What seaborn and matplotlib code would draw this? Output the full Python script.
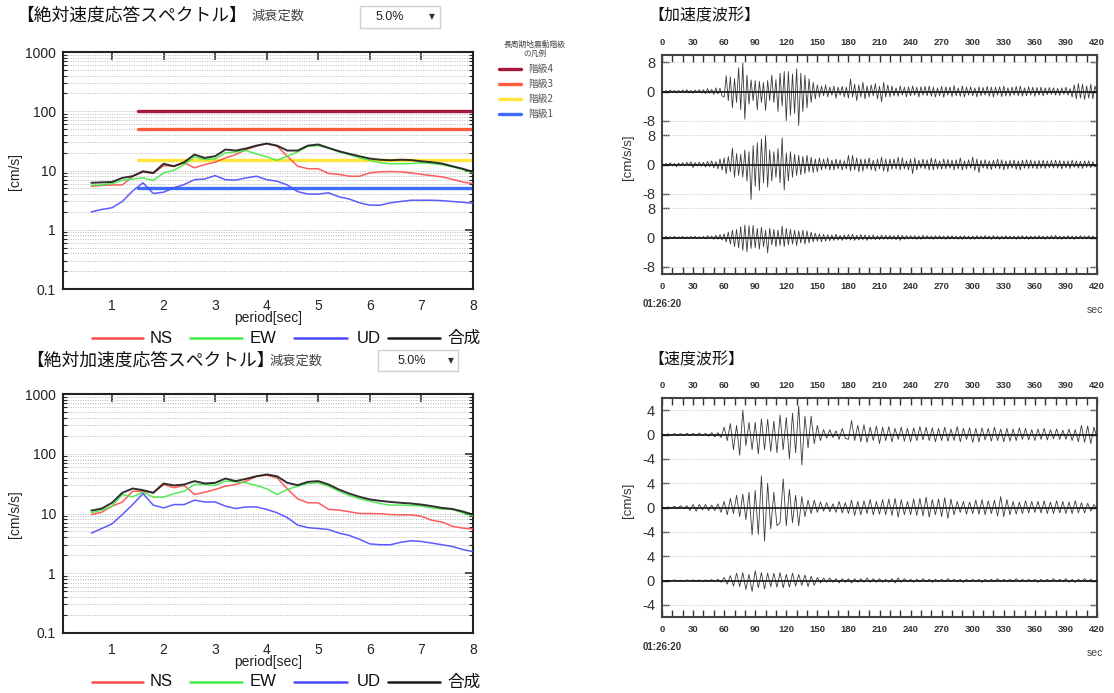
import numpy as np
import matplotlib
matplotlib.use("Agg")
import matplotlib.pyplot as plt
import seaborn as sns
from matplotlib.lines import Line2D
from matplotlib.patches import Rectangle
from matplotlib.ticker import FixedLocator, NullFormatter, LogLocator

sns.set_style("white")
plt.rcParams['font.family'] = ['Liberation Sans', 'Noto Sans CJK JP', 'DejaVu Sans']

# ---------------- data ----------------
periods = [0.6, 0.8, 1.0, 1.2, 1.4, 1.6, 1.8, 2.0, 2.2, 2.4,
           2.6, 2.8, 3.0, 3.2, 3.4, 3.6, 3.8, 4.0, 4.2, 4.4,
           4.6, 4.8, 5.0, 5.2, 5.4, 5.6, 5.8, 6.0, 6.2, 6.4,
           6.6, 6.8, 7.0, 7.2, 7.4, 7.6, 7.8, 8.0]

# absolute velocity response spectrum [cm/s]
vs_ns = [5.4, 5.6, 5.7, 5.7, 8.0, 9.5, 8.9, 12.1, 11.8, 13.5,
         11.1, 12.6, 13.8, 16.3, 18.6, 22.6, 25.7, 28.5, 25.7, 17.4,
         11.8, 10.7, 10.7, 8.9, 8.6, 8.0, 8.0, 9.1, 9.5, 9.6,
         9.5, 9.1, 8.6, 8.2, 7.8, 7.1, 6.4, 6.0]
vs_ew = [5.6, 5.7, 6.0, 6.8, 7.2, 7.5, 6.8, 9.1, 10.1, 12.6,
         17.0, 15.3, 15.7, 19.8, 20.6, 21.7, 19.1, 17.0, 14.9, 17.4,
         20.6, 25.7, 26.3, 24.0, 20.6, 18.6, 16.3, 14.9, 13.5, 13.0,
         13.0, 13.1, 13.5, 13.1, 12.5, 11.5, 10.4, 9.1]
vs_ud = [2.0, 2.2, 2.35, 3.0, 4.5, 6.2, 4.1, 4.3, 5.1, 5.8,
         7.0, 7.2, 8.2, 7.0, 6.9, 7.5, 8.0, 7.0, 6.6, 5.7,
         4.4, 4.0, 4.0, 4.2, 3.6, 3.3, 2.85, 2.6, 2.6, 2.85,
         3.0, 3.15, 3.15, 3.15, 3.1, 3.0, 2.9, 2.8]
vs_sum = [6.2, 6.3, 6.4, 7.5, 8.0, 9.7, 9.1, 13.0, 11.8, 13.8,
          18.6, 16.3, 17.4, 22.6, 21.7, 23.5, 26.3, 28.5, 26.3, 21.7,
          21.7, 26.3, 27.5, 24.0, 21.2, 19.1, 17.4, 15.9, 15.2, 14.9,
          15.2, 15.0, 14.3, 13.8, 13.1, 11.8, 10.7, 9.5]

# absolute acceleration response spectrum [cm/s/s]
as_ns = [9.6, 10.5, 13.3, 15.5, 23.6, 23.6, 22.2, 30.6, 27.0, 29.5,
         20.8, 22.7, 25.2, 28.7, 30.6, 34.8, 42.0, 43.8, 39.5, 25.9,
         17.6, 15.1, 15.1, 11.7, 11.4, 10.7, 10.0, 10.0, 9.9, 9.6,
         9.5, 9.5, 9.0, 7.7, 7.2, 6.1, 5.7, 5.5]
as_ew = [10.3, 11.4, 13.3, 20.8, 19.0, 22.7, 18.8, 18.8, 21.4, 23.6,
         30.6, 30.6, 29.5, 34.8, 33.9, 32.6, 29.5, 25.9, 20.8, 25.2,
         28.7, 31.8, 32.6, 28.7, 23.6, 20.0, 17.6, 16.1, 14.7, 13.8,
         13.8, 13.6, 13.3, 12.4, 11.9, 11.7, 10.3, 9.0]
as_ud = [4.7, 5.6, 6.7, 9.6, 14.1, 21.6, 13.8, 12.4, 14.1, 14.1,
         16.7, 15.6, 15.6, 13.3, 12.1, 12.9, 12.9, 11.7, 10.3, 8.5,
         6.4, 5.8, 5.6, 5.4, 4.7, 4.3, 3.7, 3.1, 3.0, 3.0,
         3.3, 3.5, 3.4, 3.2, 3.0, 2.8, 2.5, 2.3]
as_sum = [11.2, 12.1, 15.1, 22.2, 26.2, 24.6, 22.2, 31.8, 29.5, 30.6,
          34.8, 31.8, 32.6, 38.5, 34.8, 38.0, 42.0, 45.0, 42.0, 32.6,
          29.8, 33.9, 34.8, 30.6, 25.2, 21.6, 19.0, 17.2, 16.3, 15.6,
          15.1, 14.7, 14.1, 13.3, 12.4, 11.9, 10.8, 9.6]

# long-period ground motion class thresholds (階級4..1)
level_values = [100, 50, 15, 5]
level_names = ['階級4', '階級3', '階級2', '階級1']
level_period = [1.5, 8.0]

series_names = ['NS', 'EW', 'UD', '合成']

# acceleration waveforms [cm/s/s], sampled every 2 s from 0 to 420 s
acc_ns = [0.2, -0.3, 0.3, -0.2, 0.4, -0.3, 0.3, -0.4, 0.3, -0.3,
          0.4, -0.3, 0.5, -0.4, 0.3, -0.5, 0.4, -0.3, 0.5, -0.4,
          0.5, -0.6, 0.8, -0.5, 0.6, -0.8, 1.0, -0.7, 0.9, -1.2,
          -1.5, 4.3, -2.5, 4.0, -4.5, 3.5, -3.0, 6.5, -5.0, 7.8,
          -7.6, 4.5, -3.5, 3.2, -2.5, 3.0, -5.0, 2.8, -3.0, 2.5,
          -5.2, 3.0, -2.5, 4.5, -3.0, 3.2, -5.5, 5.0, -4.0, 5.5,
          -8.0, 5.5, -6.5, 4.8, -6.0, 6.2, -9.3, 5.0, -5.5, 4.5,
          -4.5, 3.5, -3.0, 2.5, -2.0, 1.8, -1.5, 1.5, -1.2, 1.8,
          -1.5, 1.2, -1.0, 1.5, -1.8, 1.2, -1.0, 1.4, -1.5, 1.2,
          -1.8, 3.4, -1.5, 2.0, -2.5, 1.8, -1.5, 2.5, -2.0, 1.5,
          -1.5, 1.8, -1.2, 2.2, -2.0, 1.5, -2.8, 2.5, -1.5, 1.8,
          -1.5, 1.5, -1.2, 1.0, -1.3, 1.5, -1.0, 1.2, -1.5, 1.3,
          -1.2, 1.5, -1.0, 1.2, -1.5, 1.3, -1.0, 1.4, -1.2, 1.5,
          -1.3, 1.2, -1.5, 1.0, -1.2, 1.4, -1.6, 1.3, -1.0, 1.2,
          -1.4, 1.6, -1.2, 1.0, -1.3, 1.5, -1.5, 1.2, -1.0, 1.3,
          -1.2, 1.0, -1.5, 1.3, -1.2, 1.1, -1.0, 1.4, -1.3, 1.2,
          -1.5, 1.2, -1.0, 1.3, -1.4, 1.5, -1.2, 1.0, -1.3, 1.2,
          -1.0, 1.4, -1.2, 1.5, -1.3, 1.0, -1.2, 1.3, -1.0, 1.2,
          -1.3, 1.1, -1.0, 1.2, -1.2, 1.0, -0.9, 1.1, -0.8, 1.0,
          -1.0, 0.9, -1.1, 1.0, -0.8, 1.2, -1.0, 0.8, -1.5, 1.8,
          -2.0, 2.2, -1.8, 2.0, -2.2, 1.5, -1.8, 2.0, -2.0, 1.5,
          -0.5]
acc_ew = [0.2, -0.3, 0.3, -0.2, 0.5, -0.4, 0.3, -0.6, 0.4, -0.3,
          0.5, -0.4, 0.6, -0.3, 0.7, -0.8, 0.5, -0.4, 0.6, -0.5,
          0.6, -0.7, 0.8, -0.6, 1.0, -0.9, 0.8, -1.2, 1.5, -1.5,
          1.8, -2.5, 2.2, -2.0, 4.5, -3.5, 3.0, -3.0, 2.8, -3.5,
          4.0, -4.5, 3.5, -9.6, 5.2, -6.0, 6.0, -7.1, 7.0, -5.0,
          7.9, -6.2, 4.0, -4.5, 3.5, -3.5, 4.3, -5.0, 7.3, -7.0,
          3.2, -4.5, 3.5, -3.5, 2.8, -3.0, 2.5, -2.8, 2.2, -2.5,
          2.5, -2.0, 2.0, -2.2, 1.5, -2.0, 1.8, -1.5, 1.5, -1.2,
          1.8, -1.5, 1.2, -1.5, 1.5, -1.2, 1.3, -1.5, 1.0, -1.2,
          2.5, -1.8, 2.5, -1.5, 1.8, -2.0, 1.5, -1.8, 1.5, -1.2,
          1.8, -1.5, 1.2, -1.8, 1.5, -1.2, 2.0, -1.8, 1.5, -2.0,
          1.5, -1.3, 1.5, -1.2, 2.0, -1.5, 1.8, -1.2, 1.0, -1.5,
          1.5, -2.5, 1.8, -1.5, 1.2, -1.0, 1.5, -1.2, 1.3, -1.5,
          1.8, -1.5, 1.5, -1.2, 1.0, -1.3, 1.5, -1.2, 1.4, -1.0,
          1.2, -1.5, 1.3, -1.2, 1.8, -1.5, 1.0, -1.2, 1.3, -1.0,
          2.0, -1.6, 1.5, -2.2, 1.2, -1.0, 1.3, -1.2, 1.0, -1.4,
          1.2, -1.0, 1.5, -1.2, 1.3, -1.5, 1.0, -1.2, 1.1, -1.0,
          1.2, -1.3, 1.0, -1.5, 1.2, -1.0, 1.3, -1.1, 1.2, -1.0,
          1.0, -1.2, 1.1, -1.0, 1.2, -1.1, 1.0, -0.9, 1.1, -1.0,
          1.2, -1.0, 1.1, -1.2, 1.0, -0.9, 1.0, -1.1, 1.2, -0.8,
          1.0, -1.0, 0.9, -1.1, 1.0, -0.8, 1.0, -0.9, 0.8, -0.7,
          0.3]
acc_ud = [0.2, -0.2, 0.3, -0.2, 0.2, -0.3, 0.3, -0.2, 0.2, -0.2,
          0.3, -0.3, 0.2, -0.3, 0.3, -0.2, 0.3, -0.3, 0.2, -0.3,
          0.3, -0.4, 0.5, -0.3, 0.4, -0.5, 0.6, -0.5, 0.8, -0.7,
          1.0, -1.2, 1.5, -1.8, 2.0, -2.5, 2.2, -2.8, 3.0, -3.5,
          3.4, -3.9, 3.2, -3.0, 3.3, -2.8, 2.5, -3.2, 2.8, -2.5,
          2.0, -4.2, 2.5, -2.0, 2.2, -2.5, 2.0, -2.2, 3.1, -2.5,
          2.5, -2.0, 2.2, -1.8, 2.0, -2.2, 1.8, -1.5, 2.0, -1.8,
          1.8, -1.5, 1.5, -1.2, 1.2, -1.0, 1.0, -1.2, 0.9, -1.0,
          0.8, -0.9, 0.7, -0.8, 0.9, -0.7, 0.6, -0.8, 0.7, -0.6,
          0.8, -0.7, 0.9, -0.8, 0.6, -0.7, 0.8, -0.6, 0.7, -0.8,
          0.6, -0.5, 0.7, -0.6, 0.5, -0.6, 0.7, -0.5, 0.6, -0.5,
          0.6, -0.5, 0.5, -0.6, 0.7, -0.8, 0.6, -0.5, 0.5, -0.4,
          0.5, -0.4, 0.5, -0.5, 0.4, -0.5, 0.6, -0.4, 0.5, -0.4,
          0.4, -0.5, 0.5, -0.4, 0.5, -0.4, 0.4, -0.5, 0.5, -0.4,
          0.5, -0.4, 0.4, -0.5, 0.4, -0.5, 0.5, -0.4, 0.4, -0.5,
          0.4, -0.5, 0.5, -0.4, 0.4, -0.4, 0.5, -0.4, 0.4, -0.5,
          0.5, -0.4, 0.4, -0.5, 0.4, -0.4, 0.5, -0.4, 0.4, -0.4,
          0.4, -0.5, 0.4, -0.4, 0.5, -0.4, 0.4, -0.5, 0.4, -0.4,
          0.4, -0.4, 0.5, -0.4, 0.4, -0.5, 0.4, -0.4, 0.5, -0.4,
          0.6, -0.5, 0.4, -0.5, 0.4, -0.4, 0.5, -0.4, 0.4, -0.5,
          0.4, -0.4, 0.5, -0.4, 0.4, -0.4, 0.5, -0.4, 0.4, -0.3,
          0.2]

# velocity waveforms [cm/s], sampled every 3 s from 0 to 420 s
vel_ns = [0.05, -0.1, 0.1, -0.1, 0.15, -0.1, 0.15, -0.2, 0.2, -0.15,
          0.2, -0.2, 0.25, -0.2, 0.2, -0.3, 0.3, -0.4, 0.3, -0.5,
          1.2, -1.0, 1.8, -2.5, 1.5, -3.4, 4.0, -1.8, 2.0, -2.5,
          2.0, -3.2, 2.6, -2.5, 2.5, -2.8, 2.2, -3.0, 3.2, -2.5,
          2.8, -4.0, 3.5, -3.0, 4.7, -5.0, 3.0, -2.2, 3.0, -1.5,
          1.5, -1.0, 0.8, -0.6, 0.8, -0.5, 0.6, -0.8, 1.0, -0.6,
          -0.8, 2.3, -1.0, 1.5, -1.2, 1.6, -1.3, 1.2, -1.0, 1.4,
          -1.5, 1.2, -1.0, 1.3, -1.2, 1.0, -0.8, 1.2, -1.1, 1.0,
          -1.2, 1.1, -1.0, 1.3, -0.9, 1.2, -1.0, 1.1, -1.2, 1.0,
          -1.0, 1.2, -1.1, 0.9, -1.0, 1.3, -1.2, 1.0, -0.8, 1.1,
          -1.3, 1.0, -1.2, 1.1, -0.9, 1.0, -1.1, 1.2, -1.0, 0.9,
          -1.2, 1.0, -1.1, 0.9, -1.0, 1.1, -0.8, 1.0, -0.9, 0.8,
          -1.0, 0.9, -0.8, 1.0, -0.9, 0.8, -0.7, 0.9, -0.8, 0.7,
          -0.8, 0.9, -1.0, 0.8, -1.2, 1.5, -1.3, 1.4, -1.5, 1.2,
          -0.5]
vel_ew = [0.05, -0.1, 0.1, -0.1, 0.2, -0.2, 0.3, -0.2, 0.3, -0.5,
          0.5, -0.6, 0.5, -0.4, 0.5, -0.5, 0.4, -0.5, 0.6, -0.8,
          1.0, -1.2, 1.5, -1.0, 2.0, -1.5, 2.2, -2.0, 2.5, -4.5,
          2.8, -4.4, 5.2, -5.5, 4.0, -3.5, 2.5, -3.0, -2.5, 4.7,
          -3.0, 3.0, -2.5, 2.0, -3.0, 1.8, -1.5, 1.2, -1.0, 1.2,
          -0.8, 0.9, -0.6, 0.8, -0.7, 0.6, -0.8, 1.0, -0.9, 0.8,
          -1.0, 1.2, -1.3, 1.0, -1.2, 1.1, -1.0, 1.3, -1.2, 1.0,
          -1.1, 1.3, -1.2, 1.4, -1.3, 1.5, -1.6, 1.3, -1.2, 1.0,
          -1.2, 1.4, -1.3, 1.5, -1.4, 1.7, -1.6, 1.3, -1.2, 1.4,
          -1.5, 1.6, -1.8, 1.4, -1.2, 1.0, -0.8, 1.0, -1.1, 0.9,
          -1.0, 1.2, -1.1, 1.3, -1.2, 1.1, -1.0, 1.2, -1.4, 1.8,
          -1.5, 1.3, -1.2, 1.0, -1.1, 0.9, -1.0, 1.1, -0.9, 1.0,
          -0.8, 1.0, -0.9, 1.1, -1.0, 0.9, -1.0, 1.1, -0.9, 1.0,
          -1.0, 0.9, -1.0, 1.1, -0.9, 0.8, -0.9, 0.7, -0.6, 0.5,
          -0.3]
vel_ud = [0.02, -0.05, 0.05, -0.05, 0.1, -0.05, 0.05, -0.1, 0.1, -0.05,
          0.1, -0.1, 0.1, -0.15, 0.1, -0.1, 0.15, -0.2, 0.2, -0.3,
          0.5, -0.6, 0.8, -0.9, 1.2, -1.0, 1.3, -1.5, 1.0, -1.8,
          1.6, -1.2, 1.3, -1.4, 1.2, -1.0, 1.2, -1.1, 1.3, -1.2,
          1.0, -1.1, 1.2, -0.9, 1.0, -0.8, 0.9, -1.0, 0.7, -0.8,
          0.5, -0.4, 0.4, -0.3, 0.4, -0.3, 0.3, -0.4, 0.3, -0.3,
          0.3, -0.4, 0.3, -0.3, 0.3, -0.3, 0.4, -0.3, 0.3, -0.3,
          0.3, -0.3, 0.2, -0.3, 0.3, -0.4, 0.4, -0.3, 0.3, -0.2,
          0.2, -0.3, 0.2, -0.2, 0.3, -0.2, 0.2, -0.3, 0.2, -0.2,
          0.2, -0.2, 0.3, -0.2, 0.2, -0.2, 0.2, -0.3, 0.2, -0.2,
          0.2, -0.2, 0.2, -0.3, 0.2, -0.2, 0.2, -0.2, 0.3, -0.2,
          0.2, -0.2, 0.2, -0.2, 0.3, -0.2, 0.2, -0.2, 0.2, -0.2,
          0.2, -0.3, 0.2, -0.2, 0.2, -0.2, 0.3, -0.2, 0.2, -0.2,
          0.3, -0.3, 0.2, -0.3, 0.2, -0.2, 0.3, -0.2, 0.2, -0.2,
          0.1]

wave_xticks = [0, 30, 60, 90, 120, 150, 180, 210, 240, 270, 300, 330, 360, 390, 420]
acc_tick_labels = ['8', '0', '-8']
vel_tick_labels = ['4', '0', '-4']
start_time = '01:26:20'

# ---------------- styling ----------------
W, H = 1114, 693
fig = plt.figure(figsize=(W / 100, H / 100), dpi=100)
fig.patch.set_facecolor('white')

def fx(x):
    return x / W

def fy(y):
    return 1 - y / H

def px_axes(l, t, r, b):
    return fig.add_axes([fx(l), fy(b), (r - l) / W, (b - t) / H])

series_colors = ['#ff4a4a', '#45e845', '#4a4aff', '#1a1a1a']
series_lw = [1.1, 1.1, 1.1, 1.4]
level_colors = ['#a3173a', '#ff5a3a', '#ffe43c', '#3d6cff']
JP = ['Noto Sans CJK JP', 'DejaVu Sans']


def spectrum(ax, curves, with_levels):
    if with_levels:
        for v, c in zip(level_values, level_colors):
            sns.lineplot(x=level_period, y=[v, v], ax=ax, color=c, lw=2.4,
                         estimator=None, sort=False, zorder=2)
    for vals, c, lw in zip(curves, series_colors, series_lw):
        sns.lineplot(x=periods, y=vals, ax=ax, color=c, lw=lw, alpha=0.9,
                     estimator=None, sort=False, zorder=3)
    ax.set_yscale('log')
    ax.set_xlim(0.05, 8)
    ax.set_ylim(0.1, 1000)
    ax.set_xticks([1, 2, 3, 4, 5, 6, 7, 8])
    ax.set_xticklabels(['1', '2', '3', '4', '5', '6', '7', '8'])
    ax.yaxis.set_major_locator(FixedLocator([0.1, 1, 10, 100, 1000]))
    ax.set_yticklabels(['0.1', '1', '10', '100', '1000'])
    ax.yaxis.set_minor_locator(LogLocator(base=10, subs=np.arange(2, 10)))
    ax.yaxis.set_minor_formatter(NullFormatter())
    ax.yaxis.grid(True, which='both', ls=(0, (1, 1.5)), color='#b8b8b8', lw=0.7)
    ax.xaxis.grid(False)
    ax.tick_params(axis='both', which='major', direction='in', length=6, width=1.1,
                   top=True, right=True, labelsize=10, colors='#222')
    ax.tick_params(axis='x', pad=7)
    ax.tick_params(axis='y', pad=5)
    ax.tick_params(axis='y', which='minor', direction='in', length=3, width=0.8,
                   left=True, right=True)
    ax.set_xlabel('')
    ax.set_ylabel('')
    for s in ax.spines.values():
        s.set_color('#222')
        s.set_linewidth(1.5)
        s.set_visible(True)


def legend_row(y):
    segs = [(92, 143, 150), (190, 242, 250), (294, 347, 357), (388, 440, 447)]
    for (x0, x1, xt), c, name in zip(segs, series_colors, series_names):
        fig.add_artist(Line2D([fx(x0), fx(x1)], [fy(y), fy(y)], color=c, lw=1.8,
                              transform=fig.transFigure))
        fig.text(fx(xt), fy(y), name, fontsize=12, va='center', ha='left',
                 color='#111', family=['Liberation Sans', 'Noto Sans CJK JP'])


def dropdown(x0, y0, x1, y1, xtext, xarrow):
    fig.add_artist(Rectangle((fx(x0), fy(y1)), (x1 - x0) / W, (y1 - y0) / H,
                             transform=fig.transFigure, fill=True, facecolor='white',
                             edgecolor='#d0d0d0', lw=1.0))
    ym = (y0 + y1) / 2
    fig.text(fx(xtext), fy(ym), '5.0%', fontsize=9, ha='center', va='center', color='#222')
    fig.text(fx(xarrow), fy(ym), '▼', fontsize=5.5, ha='center', va='center', color='#333',
             family=['DejaVu Sans'])


# ---- top-left: absolute velocity response spectrum ----
ax1 = px_axes(63, 52, 473, 289)
spectrum(ax1, [vs_ns, vs_ew, vs_ud, vs_sum], True)
fig.text(fx(16), fy(16), '【絶対速度応答スペクトル】', fontsize=12.8, va='center', ha='left',
         family=JP, color='#111')
fig.text(fx(252), fy(16), '減衰定数', fontsize=9.5, va='center', ha='left', family=JP, color='#444')
dropdown(360, 6, 440, 28, 390, 432)
fig.text(fx(15), fy(171), '[cm/s]', rotation=90, fontsize=10, ha='center', va='center', color='#222')
fig.text(fx(268), fy(318), 'period[sec]', fontsize=10, ha='center', va='center', color='#222')
legend_row(338)

# long-period class legend
fig.text(fx(535), fy(45), '長周期地震動階級', fontsize=5.6, ha='center', va='center', family=JP, color='#444')
fig.text(fx(535), fy(54), 'の凡例', fontsize=5.6, ha='center', va='center', family=JP, color='#444')
for yy, c, name in zip([69, 84, 99, 114], level_colors, level_names):
    fig.add_artist(Line2D([fx(499), fx(521)], [fy(yy), fy(yy)], color=c, lw=2.4,
                          transform=fig.transFigure))
    fig.text(fx(528), fy(yy), name, fontsize=7, ha='left', va='center', family=JP, color='#555')

# ---- bottom-left: absolute acceleration response spectrum ----
ax2 = px_axes(63, 394, 473, 633)
spectrum(ax2, [as_ns, as_ew, as_ud, as_sum], False)
fig.text(fx(26), fy(361), '【絶対加速度応答スペクトル】', fontsize=12.8, va='center', ha='left',
         family=JP, color='#111')
fig.text(fx(270), fy(361), '減衰定数', fontsize=9.5, va='center', ha='left', family=JP, color='#444')
dropdown(378, 350, 458, 371, 412, 451)
fig.text(fx(15), fy(514), '[cm/s/s]', rotation=90, fontsize=10, ha='center', va='center', color='#222')
fig.text(fx(268), fy(662), 'period[sec]', fontsize=10, ha='center', va='center', color='#222')
legend_row(682)


# ---- right: waveforms ----
def waveform(ax, traces, spacing, amp, labels, half):
    centers = [2 * spacing, spacing, 0]
    for vals, c in zip(traces, centers):
        t = np.linspace(0, 420, len(vals))
        sns.lineplot(x=t, y=np.asarray(vals) + c, ax=ax, color='#3a3a3a', lw=0.6,
                     estimator=None, sort=False, zorder=3)
        ax.axhline(c, color='#111', lw=1.2, zorder=4)
        ax.axhline(c + amp, color='#c8c8c8', lw=0.7, ls=(0, (1, 1.5)), zorder=1)
        ax.axhline(c - amp, color='#c8c8c8', lw=0.7, ls=(0, (1, 1.5)), zorder=1)
    ticks = []
    for c in centers:
        ticks += [c + amp, c, c - amp]
    ax.set_yticks(ticks)
    ax.set_yticklabels(labels * 3)
    ax.set_ylim(-half, 2 * spacing + half)
    ax.set_xlim(0, 420)
    ax.set_xticks(wave_xticks)
    ax.set_xticklabels([str(v) for v in wave_xticks])
    ax.set_xticks(np.arange(0, 421, 10), minor=True)
    ax.tick_params(axis='x', which='both', direction='in', length=5, width=1.0,
                   top=True, bottom=True, labeltop=True, labelbottom=True, colors='#333')
    ax.tick_params(axis='x', which='major', labelsize=6.8, pad=6)
    ax.tick_params(axis='y', which='major', direction='in', length=5, width=1.0,
                   left=True, right=True, labelsize=10.5, pad=5, colors='#333')
    for lab in ax.get_xticklabels():
        lab.set_fontweight('bold')
    ax.grid(False)
    ax.set_xlabel('')
    ax.set_ylabel('')
    for s in ax.spines.values():
        s.set_color('#444')
        s.set_linewidth(1.5)
        s.set_visible(True)


ax3 = px_axes(662, 55, 1097, 274)
waveform(ax3, [acc_ns, acc_ew, acc_ud], 20, 8, acc_tick_labels, 10)
fig.text(fx(648), fy(16), '【加速度波形】', fontsize=11.5, va='center', ha='left', family=JP, color='#111')
fig.text(fx(628), fy(157), '[cm/s/s]', rotation=90, fontsize=9.5, ha='center', va='center', color='#333')
fig.text(fx(643), fy(304), start_time, fontsize=7, fontweight='bold', ha='left', va='center', color='#333')
fig.text(fx(1103), fy(310), 'sec', fontsize=7.5, ha='right', va='center', color='#444')

ax4 = px_axes(662, 398, 1097, 617)
waveform(ax4, [vel_ns, vel_ew, vel_ud], 12, 4, vel_tick_labels, 6)
fig.text(fx(648), fy(360), '【速度波形】', fontsize=11.5, va='center', ha='left', family=JP, color='#111')
fig.text(fx(628), fy(500), '[cm/s]', rotation=90, fontsize=9.5, ha='center', va='center', color='#333')
fig.text(fx(643), fy(647), start_time, fontsize=7, fontweight='bold', ha='left', va='center', color='#333')
fig.text(fx(1103), fy(653), 'sec', fontsize=7.5, ha='right', va='center', color='#444')

fig.savefig('out.png', dpi=100, facecolor='white')
